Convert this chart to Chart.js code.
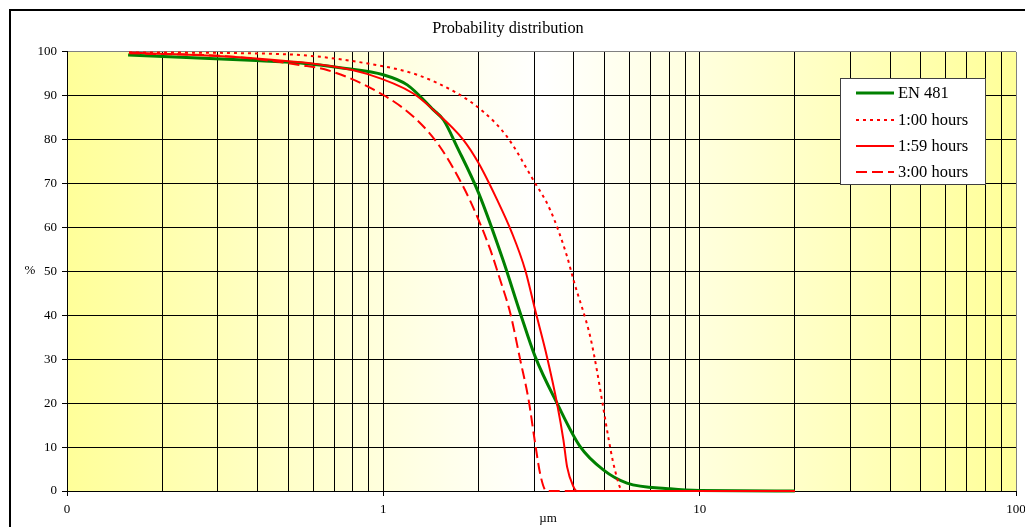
<!DOCTYPE html>
<html>
<head>
<meta charset="utf-8">
<script src="https://cdn.jsdelivr.net/npm/chart.js@4/dist/chart.umd.min.js"></script>
<style>
  body { margin: 0; background: #fff; }
  #wrap { width: 1025px; height: 527px; }
</style>
</head>
<body>
<div id="wrap"><canvas id="chart" width="1025" height="527"></canvas></div>
<script>
// values (x in µm, y in %)
const en481X = [0.156, 0.38, 0.547, 0.75, 1.0, 1.19, 1.44, 1.55, 1.71, 2.0, 2.39, 2.71, 3.02, 3.54, 4.19, 4.96, 5.89, 8.07, 10, 20];
const en481Y = [99.3, 98.1, 97.5, 96.3, 94.8, 92.5, 86.8, 84.5, 78.4, 67.9, 52.6, 40.5, 30.6, 20, 10.1, 4.8, 1.8, 0.5, 0.1, 0];

const h100X = [0.157, 0.483, 0.955, 1.278, 1.71, 2.07, 2.46, 2.98, 3.37, 3.81, 3.99, 4.51, 4.73, 4.94, 5.15, 5.32, 5.54, 5.61, 5.75, 20];
const h100Y = [99.9, 99.5, 97.0, 94.8, 90.6, 86.4, 80.7, 70.8, 64.0, 53.4, 48.1, 35.1, 27.6, 19.6, 12.0, 6.7, 1.75, 0.7, 0, 0];

const h159X = [0.157, 0.38, 0.695, 0.888, 1.24, 1.44, 1.79, 2.0, 2.29, 2.55, 2.81, 3.02, 3.29, 3.54, 3.71, 3.81, 3.99, 4.09, 20];
const h159Y = [99.9, 98.6, 96.7, 95.0, 90.6, 86.8, 80, 74.7, 66.3, 58.8, 50.3, 41.2, 30.6, 20, 11.6, 5.5, 1.0, 0, 0];

const h300X = [0.157, 0.336, 0.547, 0.664, 1.0, 1.278, 1.51, 1.79, 1.98, 2.18, 2.34, 2.52, 2.71, 2.88, 3.02, 3.13, 3.25, 3.3, 20];
const h300Y = [99.7, 98.9, 97.0, 95.9, 90.2, 84.5, 78.4, 69.3, 62.5, 54.9, 48.1, 40.5, 29.8, 20.7, 10.8, 4.0, 0.2, 0, 0];

const seriesNames = ['EN 481', '1:00 hours', '1:59 hours', '3:00 hours'];
const xLabels = { 0.1: '0', 1: '1', 10: '10', 100: '100' };
const decades = [0.1, 1, 10];

const FONT = '"Liberation Serif", "Times New Roman", serif';

function pts(xs, ys) {
    return xs.map((x, i) => ({ x: x, y: ys[i] }));
}

function labelFor(v) {
    for (const k in xLabels) {
        if (Math.abs(v - Number(k)) < 1e-9) return xLabels[k];
    }
    return '';
}

const extras = {
    id: 'extras',
    beforeDraw(chart) {
        const { ctx, chartArea: a } = chart;
        ctx.save();
        ctx.fillStyle = '#fff';
        ctx.fillRect(0, 0, chart.width, chart.height);
        const g = ctx.createLinearGradient(a.left, 0, a.right, 0);
        g.addColorStop(0, '#ffff99');
        g.addColorStop(0.5, '#ffffff');
        g.addColorStop(1, '#ffff99');
        ctx.fillStyle = g;
        ctx.fillRect(a.left, a.top, a.right - a.left, a.bottom - a.top);
        ctx.restore();
    },
    afterDraw(chart) {
        const ctx = chart.ctx;
        ctx.save();
        // outer frame
        ctx.strokeStyle = '#000';
        ctx.lineWidth = 2;
        ctx.strokeRect(10, 10, 1100, 600);

        // axis titles
        ctx.fillStyle = '#000';
        ctx.font = '13px ' + FONT;
        ctx.textAlign = 'center';
        ctx.textBaseline = 'middle';
        ctx.fillText('%', 30, 271);
        ctx.fillText('µm', 548, 519);

        // legend
        ctx.fillStyle = '#fff';
        ctx.fillRect(840.5, 78.5, 145, 106);
        ctx.strokeStyle = '#404040';
        ctx.lineWidth = 1;
        ctx.strokeRect(840.5, 78.5, 145, 106);
        const rows = [93, 120, 146, 172];
        ctx.font = '16.5px ' + FONT;
        ctx.textAlign = 'left';
        chart.data.datasets.forEach((ds, i) => {
            const y = rows[i];
            ctx.strokeStyle = ds.borderColor;
            ctx.lineWidth = ds.borderWidth;
            ctx.setLineDash(ds.borderDash || []);
            ctx.beginPath();
            ctx.moveTo(856, y);
            ctx.lineTo(894, y);
            ctx.stroke();
            ctx.setLineDash([]);
            ctx.fillStyle = '#000';
            ctx.fillText(ds.label, 898, y + 1);
        });
        ctx.restore();
    }
};

const chart = new Chart(document.getElementById('chart').getContext('2d'), {
    type: 'scatter',
    data: {
        datasets: [
            { label: seriesNames[0], data: pts(en481X, en481Y), borderColor: '#008000', borderWidth: 3, order: 4 },
            { label: seriesNames[1], data: pts(h100X, h100Y), borderColor: '#ff0000', borderWidth: 2, borderDash: [3, 4], order: 3 },
            { label: seriesNames[2], data: pts(h159X, h159Y), borderColor: '#ff0000', borderWidth: 2, order: 1 },
            { label: seriesNames[3], data: pts(h300X, h300Y), borderColor: '#ff0000', borderWidth: 2, borderDash: [11, 5], order: 2 }
        ].map(ds => Object.assign(ds, {
            showLine: true, pointRadius: 0, fill: false, cubicInterpolationMode: 'monotone', clip: 3
        }))
    },
    options: {
        responsive: false,
        animation: false,
        events: [],
        layout: { padding: { left: 0, top: 0, right: 9, bottom: 0 }, autoPadding: false },
        plugins: {
            legend: { display: false },
            tooltip: { enabled: false },
            title: {
                display: true,
                text: 'Probability distribution',
                color: '#000',
                font: { family: FONT, size: 16.3, weight: 'normal', lineHeight: 1.2 },
                padding: { top: 19, bottom: 13.4 }
            }
        },
        scales: {
            x: {
                type: 'logarithmic',
                min: 0.1,
                max: 100,
                afterFit: s => { s.height = 36; s.paddingLeft = 0; s.paddingRight = 0; },
                afterBuildTicks: s => {
                    const t = [];
                    decades.forEach(d => {
                        for (let k = 1; k <= 9; k++) t.push({ value: d * k });
                    });
                    t.push({ value: 100 });
                    s.ticks = t;
                },
                ticks: {
                    autoSkip: false,
                    maxRotation: 0,
                    padding: 6,
                    color: '#000',
                    font: { family: FONT, size: 13 },
                    callback: v => labelFor(v)
                },
                grid: {
                    color: c => (c.tick && Math.abs(c.tick.value - 100) < 1e-9) ? '#808080' : '#000',
                    lineWidth: 1,
                    tickLength: 5,
                    tickColor: c => (c.tick && labelFor(c.tick.value) !== '') ? '#000' : 'rgba(0,0,0,0)'
                },
                border: { color: '#000', width: 1 }
            },
            y: {
                min: 0,
                max: 100,
                afterFit: s => { s.width = 67; s.paddingTop = 0; s.paddingBottom = 0; },
                ticks: {
                    stepSize: 10,
                    padding: 5,
                    color: '#000',
                    font: { family: FONT, size: 13 }
                },
                grid: {
                    color: c => (c.tick && c.tick.value === 100) ? '#808080' : '#000',
                    lineWidth: 1,
                    tickLength: 5,
                    tickColor: '#000'
                },
                border: { color: '#000', width: 1 }
            }
        }
    },
    plugins: [extras]
});
</script>
</body>
</html>
